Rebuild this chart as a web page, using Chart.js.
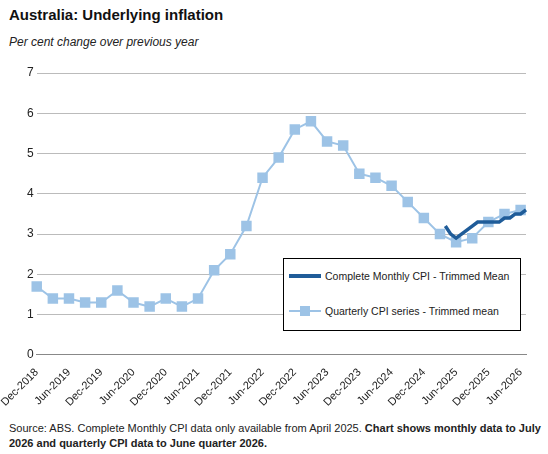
<!DOCTYPE html><html><head><meta charset="utf-8">
<script src="https://cdn.jsdelivr.net/npm/chart.js@4"></script>
<style>
body{margin:0;width:548px;height:454px;background:#fff;font-family:"Liberation Sans",Arial,sans-serif;position:relative;overflow:hidden}
#t{position:absolute;left:9px;top:6px;font-size:15px;font-weight:bold;color:#111}
#s{position:absolute;left:9px;top:35px;font-size:12px;font-style:italic;color:#222}
#c{position:absolute;left:0;top:58px;width:540px;height:354px}
#f{position:absolute;left:9px;top:421px;font-size:11px;color:#222;line-height:15px;width:535px}
#lg{position:absolute;left:283px;top:258px;width:236px;height:71px;border:1px solid #000;background:#fff;font-size:10.5px;color:#222;white-space:nowrap}
.it{position:absolute;left:5px;display:flex;align-items:center}
</style></head><body>
<div id="t">Australia: Underlying inflation</div>
<div id="s">Per cent change over previous year</div>
<div id="c"><canvas id="cv"></canvas></div>
<div id="lg">
<div class="it" style="top:11px"><span style="display:inline-block;width:32px;height:4px;background:#1F5C99;margin-right:4px"></span>Complete Monthly CPI - Trimmed Mean</div>
<div class="it" style="top:46px"><span style="display:inline-block;width:32px;height:2px;background:#9DC3E6;margin-right:4px;position:relative"><span style="position:absolute;left:11px;top:-4px;width:10px;height:10px;background:#9DC3E6"></span></span>Quarterly CPI series - Trimmed mean</div>
</div>
<div id="f">Source: ABS. Complete Monthly CPI data only available from April 2025. <b>Chart shows monthly data to July 2026 and quarterly CPI data to June quarter 2026.</b></div>
<script>
const monthNames=["Jan","Feb","Mar","Apr","May","Jun","Jul","Aug","Sep","Oct","Nov","Dec"];
const quarterly=[1.7,1.4,1.4,1.3,1.3,1.6,1.3,1.2,1.4,1.2,1.4,2.1,2.5,3.2,4.4,4.9,5.6,5.8,5.3,5.2,4.5,4.4,4.2,3.8,3.4,3.0,2.8,2.9,3.3,3.5,3.6];
const monthly=[3.2,3.0,2.9,3.0,3.1,3.2,3.3,3.3,3.3,3.3,3.3,3.4,3.4,3.5,3.5,3.6];
const labels=[];
for(let i=0;i<92;i++){const m=(11+i)%12;const y=2018+Math.floor((11+i)/12);labels.push(monthNames[m]+"-"+y);}
const qData=labels.map((l,i)=>i%3===0&&quarterly[i/3]!==undefined?quarterly[i/3]:null);
const mStart=labels.indexOf("Apr-2025");
const mData=labels.map((l,i)=>i>=mStart&&i-mStart<monthly.length?monthly[i-mStart]:null);
new Chart(document.getElementById('cv'),{type:'line',data:{labels,datasets:[
{data:mData,borderColor:'#1F5C99',borderWidth:3.5,pointRadius:0,spanGaps:false,order:0},
{data:qData,borderColor:'#9DC3E6',backgroundColor:'#9DC3E6',borderWidth:2,pointStyle:'rect',pointRadius:6,spanGaps:true,order:1}
]},options:{responsive:true,maintainAspectRatio:false,animation:false,
layout:{padding:{left:12,right:14,top:15}},
plugins:{legend:{display:false},tooltip:{enabled:false}},
scales:{x:{offset:false,grid:{display:false},border:{color:'#888'},
ticks:{autoSkip:false,maxRotation:45,minRotation:45,color:'#222',font:{size:11,family:'Liberation Sans'},
callback:(v,i)=>i%6===0?labels[i]:''}},
y:{min:0,max:7,ticks:{stepSize:1,color:'#222',font:{size:12,family:'Liberation Sans'}},grid:{color:'#bbb',drawTicks:false},border:{display:false}}}}});
</script></body></html>
